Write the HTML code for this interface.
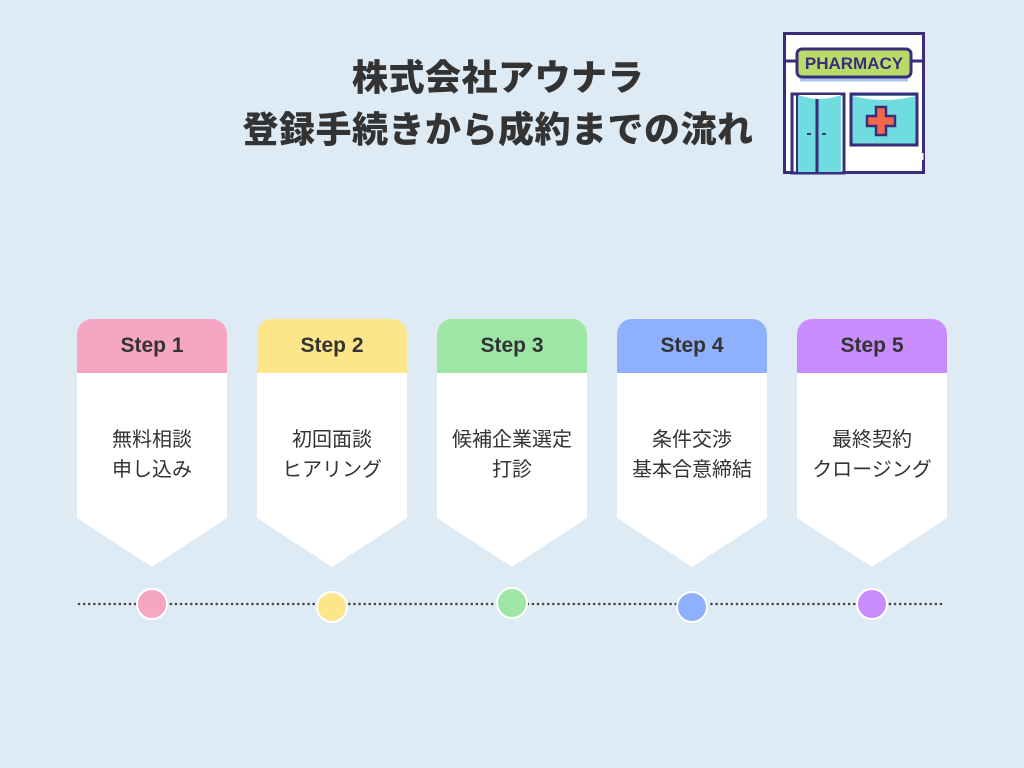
<!DOCTYPE html>
<html><head><meta charset="utf-8"><style>
body{margin:0;width:1024px;height:768px;background:#deebf5;position:relative;overflow:hidden;font-family:"Liberation Sans","Noto Sans CJK JP",sans-serif;color:#333;}
.t{position:absolute;left:0;width:996px;text-align:center;font-weight:900;font-size:36px;line-height:40px;color:#333;letter-spacing:0.5px;}
.card{position:absolute;top:319px;width:150px;height:248px;}
.hd{position:absolute;top:0;left:0;width:150px;height:54px;border-radius:15px 15px 0 0;text-align:center;line-height:54px;font-weight:bold;font-size:21px;color:#333;}
.tx{position:absolute;top:106px;left:0;width:150px;text-align:center;font-size:20px;line-height:30px;color:#333;}
.dot{position:absolute;width:32px;height:32px;border-radius:50%;border:2px solid #fff;box-sizing:border-box;}
</style></head><body>
<div class="t" style="top:58px">株式会社アウナラ</div>
<div class="t" style="top:110px">登録手続きから成約までの流れ</div>

<svg style="position:absolute;left:0;top:0" width="1024" height="768">
<g stroke="#3a2d7a" stroke-width="3" fill="none">
<rect x="784.5" y="33.5" width="139" height="139" fill="#fff"/>
<line x1="784" y1="61" x2="797" y2="61"/><line x1="911" y1="61" x2="924" y2="61"/>
<rect x="797" y="49" width="114" height="28" rx="5" fill="#b9db6a"/>
<line x1="800" y1="80" x2="908" y2="80" stroke="#a8c8ef" stroke-width="3"/>
<rect x="792" y="94" width="52" height="79" fill="#fff"/>
<path d="M797 96 L841 96 L841 172 L797 172 Z" fill="#6fdcdf" stroke="none"/>
<line x1="817" y1="94" x2="817" y2="173"/>
<line x1="797" y1="94" x2="797" y2="173" stroke-width="2"/>
<rect x="851" y="94" width="66" height="51" fill="#6fdcdf"/>
<path d="M876 107h10v9h9v10h-9v9h-10v-9h-9v-10h9z" fill="#f3674c" stroke-width="2.5"/>
<line x1="922" y1="153" x2="922" y2="160" stroke="#fff"/>
</g>
<path d="M799 95 q20 8 42 0" fill="#fff" stroke="none"/>
<path d="M853 96 q32 8 63 0" fill="#fff" stroke="none"/>
<g stroke="#3a2d7a" stroke-width="2"><line x1="807" y1="134" x2="811" y2="134"/><line x1="822" y1="134" x2="826" y2="134"/></g>
<text x="854" y="69" text-anchor="middle" font-family="Liberation Sans,sans-serif" font-weight="bold" font-size="17" fill="#3a2d7a">PHARMACY</text>
<line x1="79" y1="604" x2="944" y2="604" stroke="#444" stroke-width="2.5" stroke-dasharray="0.1 5" stroke-linecap="round"/>
<g fill="#fff">
<polygon points="77,373 227,373 227,518 152,567 77,518"/>
<polygon points="257,373 407,373 407,518 332,567 257,518"/>
<polygon points="437,373 587,373 587,518 512,567 437,518"/>
<polygon points="617,373 767,373 767,518 692,567 617,518"/>
<polygon points="797,373 947,373 947,518 872,567 797,518"/>
</g>
</svg>

<div class="card" style="left:77px"><div class="hd" style="background:#f5a6c3">Step 1</div><div class="tx">無料相談<br>申し込み</div></div>
<div class="card" style="left:257px"><div class="hd" style="background:#fde68a">Step 2</div><div class="tx">初回面談<br>ヒアリング</div></div>
<div class="card" style="left:437px"><div class="hd" style="background:#9ee6a6">Step 3</div><div class="tx">候補企業選定<br>打診</div></div>
<div class="card" style="left:617px"><div class="hd" style="background:#8fb0fc">Step 4</div><div class="tx">条件交渉<br>基本合意締結</div></div>
<div class="card" style="left:797px"><div class="hd" style="background:#c98cfc">Step 5</div><div class="tx">最終契約<br>クロージング</div></div>

<div class="dot" style="left:136px;top:588px;background:#f5a6c3"></div>
<div class="dot" style="left:316px;top:591px;background:#fde68a"></div>
<div class="dot" style="left:496px;top:587px;background:#9ee6a6"></div>
<div class="dot" style="left:676px;top:591px;background:#8fb0fc"></div>
<div class="dot" style="left:856px;top:588px;background:#c98cfc"></div>
</body></html>
